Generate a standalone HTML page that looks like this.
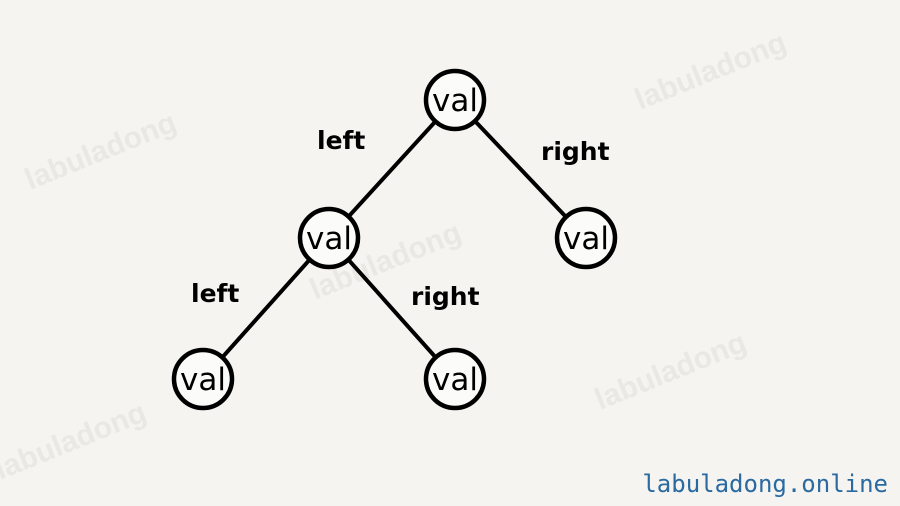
<!DOCTYPE html>
<html><head><style>
html,body{margin:0;padding:0;background:#f5f4f1;width:900px;height:506px;overflow:hidden}
</style></head><body>
<svg width="900" height="506" xmlns="http://www.w3.org/2000/svg">
<rect width="900" height="506" fill="#f5f4f1"/>
<g font-family="Liberation Sans, sans-serif" font-weight="bold" font-size="30" fill="#e9e8e5">
<text x="30" y="190" transform="rotate(-22 30 190)">labuladong</text>
<text x="640" y="110" transform="rotate(-22 640 110)">labuladong</text>
<text x="315" y="300" transform="rotate(-22 315 300)">labuladong</text>
<text x="600" y="410" transform="rotate(-22 600 410)">labuladong</text>
<text x="0" y="480" transform="rotate(-22 0 480)">labuladong</text>
</g>
<g stroke="#000" stroke-width="4" stroke-linecap="round">
<line x1="455" y1="100" x2="329" y2="238"/>
<line x1="455" y1="100" x2="586" y2="238"/>
<line x1="329" y1="238" x2="203" y2="379"/>
<line x1="329" y1="238" x2="455" y2="379"/>
</g>
<g fill="#fbfbf9" stroke="#000" stroke-width="4.5">
<circle cx="455" cy="100" r="29"/>
<circle cx="329" cy="238" r="29"/>
<circle cx="586" cy="238" r="29"/>
<circle cx="203" cy="379" r="29"/>
<circle cx="455" cy="379" r="29"/>
</g>
<g font-family="DejaVu Sans, sans-serif" font-size="31" fill="#000" text-anchor="middle">
<text x="455" y="111">val</text>
<text x="329" y="249">val</text>
<text x="586" y="249">val</text>
<text x="203" y="390">val</text>
<text x="455" y="390">val</text>
</g>
<g font-family="DejaVu Sans, sans-serif" font-weight="bold" font-size="25" fill="#000">
<text x="317" y="149">left</text>
<text x="541" y="160">right</text>
<text x="191" y="302">left</text>
<text x="411" y="305">right</text>
</g>
<text x="888" y="492" text-anchor="end" font-family="DejaVu Sans Mono, Liberation Mono, monospace" font-size="24" fill="#2a6aa0">labuladong.online</text>
</svg>
</body></html>
